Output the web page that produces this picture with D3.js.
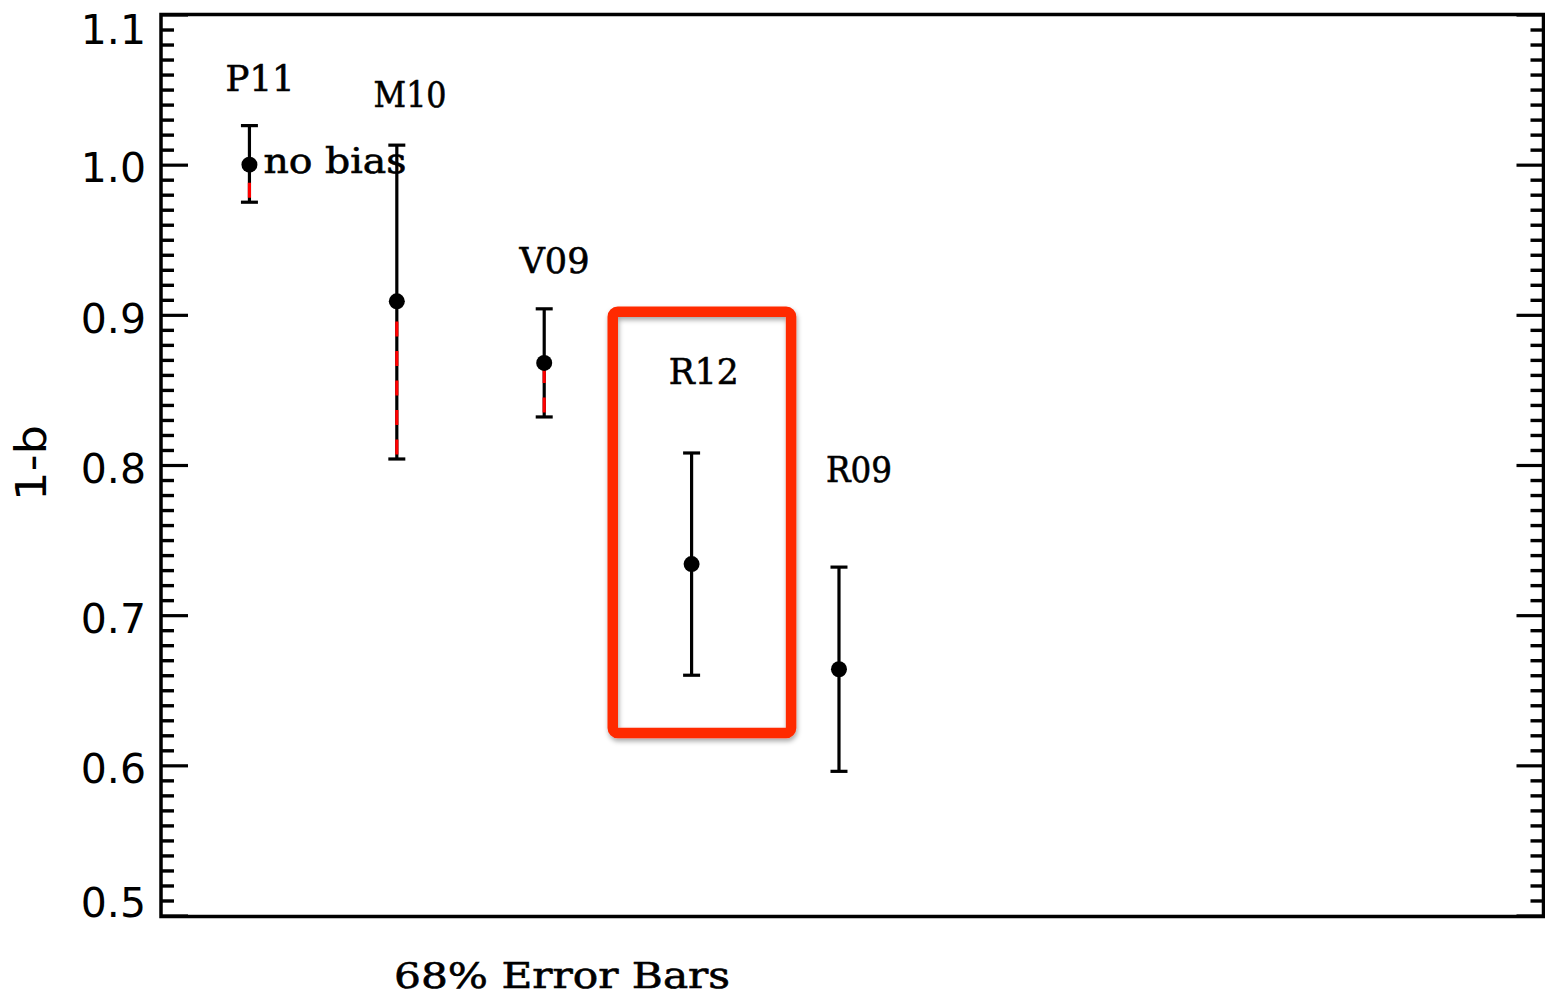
<!DOCTYPE html>
<html>
<head>
<meta charset="utf-8">
<script src="https://cdn.jsdelivr.net/npm/d3@7"></script>
<style>
  html, body { margin: 0; padding: 0; background: #fff; }
  svg { display: block; }
</style>
</head>
<body>
<svg id="chart" width="1545" height="999"></svg>
<script>
// ---- data ----
const labels = ["P11", "M10", "V09", "R12", "R09"];
const xPos = [1, 2, 3, 4, 5];
const centers = [1.000, 0.909, 0.868, 0.734, 0.664];
const uppers = [1.026, 1.013, 0.904, 0.808, 0.732];
const lowers = [0.975, 0.804, 0.832, 0.660, 0.596];
const dashedLower = [true, true, true, false, false];
const labelX = [1.072, 2.09, 3.07, 4.083, 5.135];
const labelY = [1.049, 1.0384, 0.928, 0.854, 0.789];
const labelLen = [69, 73, 70, 70, 66];
const noteText = "no bias";
const noteX = 1.095, noteY = 0.9945;
const highlightX = [3.465, 4.675];
const highlightY = [0.6215, 0.902];
const yMajorTicks = [0.5, 0.6, 0.7, 0.8, 0.9, 1.0, 1.1];
const yTickLabels = ["0.5", "0.6", "0.7", "0.8", "0.9", "1.0", "1.1"];
const yMinorTicks = d3.range(50, 111).filter(v => v % 10 !== 0).map(v => v / 100);
const xTitle = "68% Error Bars";
const yTitle = "1-b";

// ---- layout ----
const svg = d3.select("#chart");
const L = 161, R = 1543.5, T = 14.5, B = 915.5;
const x = d3.scaleLinear().domain([0.4, 9.78]).range([L, R]);
const y = d3.scaleLinear().domain([0.5, 1.1]).range([B, T]);

// minor ticks left and right
svg.append("g").attr("transform", `translate(${L},0)`)
  .call(d3.axisLeft(y).tickValues(yMinorTicks).tickSize(-13).tickFormat(""))
  .call(g => g.select(".domain").remove())
  .selectAll("line").attr("stroke", "#000").attr("stroke-width", 3.4);
svg.append("g").attr("transform", `translate(${R},0)`)
  .call(d3.axisRight(y).tickValues(yMinorTicks).tickSize(-13).tickFormat(""))
  .call(g => g.select(".domain").remove())
  .selectAll("line").attr("stroke", "#000").attr("stroke-width", 3.4);

// major ticks + labels
const yAxisL = svg.append("g").attr("transform", `translate(${L},0)`)
  .call(d3.axisLeft(y).tickValues(yMajorTicks).tickSize(-27).tickPadding(15)
    .tickFormat((d, i) => yTickLabels[i]))
  .call(g => g.select(".domain").remove());
yAxisL.selectAll("line").attr("stroke", "#000").attr("stroke-width", 3.2);
yAxisL.selectAll("text")
  .attr("fill", "#000")
  .style("font-family", "'DejaVu Sans', sans-serif")
  .style("font-size", "41px")
  .attr("dy", d => d === 1.1 ? "0.70em" : (d === 0.5 ? "0.03em" : "0.42em"));
svg.append("g").attr("transform", `translate(${R},0)`)
  .call(d3.axisRight(y).tickValues(yMajorTicks).tickSize(-27).tickFormat(""))
  .call(g => g.select(".domain").remove())
  .selectAll("line").attr("stroke", "#000").attr("stroke-width", 3.2);

// frame
svg.append("rect")
  .attr("x", L).attr("y", T).attr("width", R - L).attr("height", B - T + 1)
  .attr("fill", "none").attr("stroke", "#000").attr("stroke-width", 3.5);

// highlight box
const defs = svg.append("defs");
const f = defs.append("filter").attr("id", "shadow").attr("x", "-10%").attr("y", "-10%").attr("width", "130%").attr("height", "130%");
f.append("feDropShadow").attr("dx", 1).attr("dy", 3).attr("stdDeviation", 2.5)
  .attr("flood-color", "#000").attr("flood-opacity", 0.35);
svg.append("rect")
  .attr("x", x(highlightX[0])).attr("y", y(highlightY[1]))
  .attr("width", x(highlightX[1]) - x(highlightX[0]))
  .attr("height", y(highlightY[0]) - y(highlightY[1]))
  .attr("rx", 5).attr("ry", 5)
  .attr("fill", "none").attr("stroke", "#ff2a00").attr("stroke-width", 10.5)
  .attr("filter", "url(#shadow)");

// error bars
const pts = labels.map((l, i) => ({ l, x: xPos[i], c: centers[i], u: uppers[i], lo: lowers[i], dash: dashedLower[i] }));
const eb = svg.append("g");
const capW = 8.5;
eb.selectAll("line.v").data(pts).join("line").attr("class", "v")
  .attr("x1", d => x(d.x)).attr("x2", d => x(d.x))
  .attr("y1", d => y(d.u)).attr("y2", d => y(d.lo))
  .attr("stroke", "#000").attr("stroke-width", 3.2);
eb.selectAll("line.red").data(pts.filter(d => d.dash)).join("line").attr("class", "red")
  .attr("x1", d => x(d.x)).attr("x2", d => x(d.x))
  .attr("y1", d => y(d.lo)).attr("y2", d => y(d.c))
  .attr("stroke", "#ff0000").attr("stroke-width", 3.2)
  .attr("stroke-dasharray", "15 14.5").attr("stroke-dashoffset", 25);
eb.selectAll("line.cu").data(pts).join("line").attr("class", "cu")
  .attr("x1", d => x(d.x) - capW).attr("x2", d => x(d.x) + capW)
  .attr("y1", d => y(d.u)).attr("y2", d => y(d.u))
  .attr("stroke", "#000").attr("stroke-width", 3.2);
eb.selectAll("line.cl").data(pts).join("line").attr("class", "cl")
  .attr("x1", d => x(d.x) - capW).attr("x2", d => x(d.x) + capW)
  .attr("y1", d => y(d.lo)).attr("y2", d => y(d.lo))
  .attr("stroke", "#000").attr("stroke-width", 3.2);
eb.selectAll("circle").data(pts).join("circle")
  .attr("cx", d => x(d.x)).attr("cy", d => y(d.c)).attr("r", 8).attr("fill", "#000");

// point labels
const serifFont = "'DejaVu Serif', serif";
svg.append("g").selectAll("text").data(labels).join("text")
  .attr("x", (d, i) => x(labelX[i]) - labelLen[i] / 2).attr("y", (d, i) => y(labelY[i]))
  .attr("textLength", (d, i) => labelLen[i]).attr("lengthAdjust", "spacingAndGlyphs")
  .style("font-family", serifFont).style("font-size", "36px")
  .attr("fill", "#000").attr("stroke", "#000").attr("stroke-width", 0.6)
  .text(d => d);

svg.append("text")
  .attr("x", x(noteX)).attr("y", y(noteY))
  .attr("textLength", 143).attr("lengthAdjust", "spacingAndGlyphs")
  .style("font-family", serifFont).style("font-size", "36px")
  .attr("fill", "#000").attr("stroke", "#000").attr("stroke-width", 0.6)
  .text(noteText);

// axis titles
svg.append("text")
  .attr("x", 394).attr("y", 988)
  .attr("textLength", 336).attr("lengthAdjust", "spacingAndGlyphs")
  .style("font-family", serifFont).style("font-size", "35px")
  .attr("fill", "#000").attr("stroke", "#000").attr("stroke-width", 0.6)
  .text(xTitle);
svg.append("text")
  .attr("transform", "translate(46,463) rotate(-90)")
  .attr("text-anchor", "middle")
  .attr("textLength", 76).attr("lengthAdjust", "spacingAndGlyphs")
  .style("font-family", "'DejaVu Sans', sans-serif").style("font-size", "42px")
  .attr("fill", "#000")
  .text(yTitle);
</script>
</body>
</html>
